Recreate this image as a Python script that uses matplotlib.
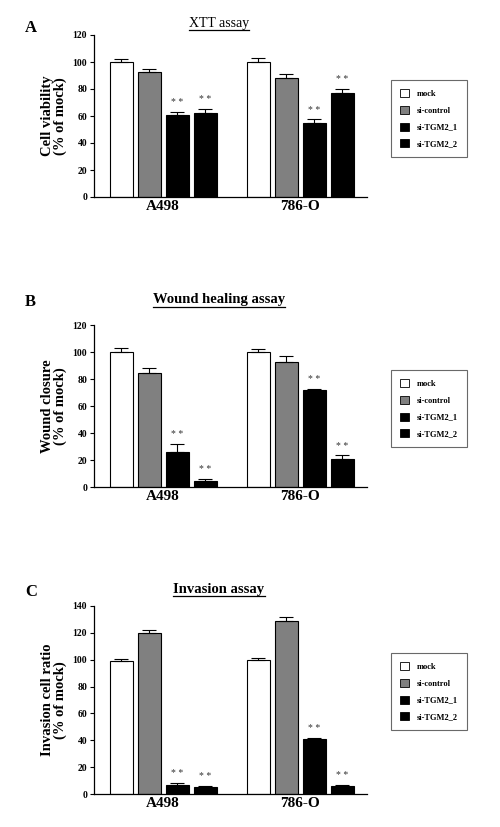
import numpy as np
import matplotlib.pyplot as plt
from matplotlib.lines import Line2D
from matplotlib.patches import Patch

plt.rcParams['font.family'] = ['Liberation Serif', 'DejaVu Serif']
plt.rcParams['font.weight'] = 'bold'

cell_lines = ['A498', '786-O']
series = ['mock', 'si-control', 'si-TGM2_1', 'si-TGM2_2']
colors = ['white', '#808080', 'black', 'black']

# rows = series, cols = cell lines
xtt_means = [[100, 100.3], [92.5, 88.3], [61, 55], [62, 77]]
xtt_errs = [[2.5, 2.3], [2.5, 2.5], [2, 2.5], [3, 3.2]]
wound_means = [[100, 100], [84.2, 92.4], [26.4, 71.9], [4.7, 21.2]]
wound_errs = [[3.2, 2.2], [4.2, 4.6], [5.4, 1.0], [1.7, 2.4]]
inv_means = [[99.2, 99.5], [120, 128.6], [7, 41], [5.2, 5.9]]
inv_errs = [[1.5, 1.9], [2.3, 3.2], [1.2, 0.8], [1, 0.8]]
starred = [False, False, True, True]

W, H = 500, 827
fig = plt.figure(figsize=(5, 8.27), dpi=100)


def px(x, y):
    return x / W, 1 - y / H


def panel(means, errs, ytop, y0px, y1px, ylabel, letter, title, title_y, letter_y,
          title_bold, legend_top):
    left, bottom = px(94, y0px)
    ax = fig.add_axes([left, bottom, 273 / W, (y0px - y1px) / H])
    step, width = 0.2044, 0.168
    offsets = (np.arange(4) - 1.5) * step
    groups = np.arange(len(cell_lines))
    for i in range(4):
        m = np.array(means[i])
        e = np.array(errs[i])
        ax.bar(groups + offsets[i], m, width, color=colors[i], edgecolor='black',
               linewidth=0.8, zorder=2)
        ax.errorbar(groups + offsets[i], m, yerr=[np.zeros_like(e), e], fmt='none',
                    ecolor='black', elinewidth=0.8, capsize=5, capthick=0.8, zorder=3)
        if starred[i]:
            for g in groups:
                ax.annotate('* *', (g + offsets[i], m[g] + e[g]), xytext=(0, 3.5),
                            textcoords='offset points', ha='center', va='bottom',
                            fontsize=7, fontweight='normal', color='#333333')
    ax.set_xlim(-0.504, 1.489)
    ax.set_ylim(0, ytop)
    ax.set_yticks(np.arange(0, ytop + 1, 20))
    ax.set_xticks(groups)
    ax.set_xticklabels(cell_lines, fontsize=11, fontweight='bold')
    ax.tick_params(axis='x', length=0, pad=2)
    ax.tick_params(axis='y', labelsize=7, length=3, width=0.8, pad=2)
    for s in ['top', 'right']:
        ax.spines[s].set_visible(False)
    for s in ['left', 'bottom']:
        ax.spines[s].set_linewidth(0.9)
    ax.set_ylabel(ylabel, fontsize=10.5, fontweight='bold', linespacing=0.95, labelpad=4)

    fig.text(25 / W, 1 - letter_y / H, letter, fontsize=12, fontweight='bold',
             ha='left', va='center')
    t = fig.text(219 / W, 1 - title_y / H, title, fontsize=10 if not title_bold else 10.5,
                 fontweight='bold' if title_bold else 'normal', ha='center', va='center')
    fig.canvas.draw()
    bb = t.get_window_extent()
    x0, yb = fig.transFigure.inverted().transform((bb.x0, bb.y0))
    x1, _ = fig.transFigure.inverted().transform((bb.x1, bb.y0))
    fig.add_artist(Line2D([x0, x1], [yb, yb], transform=fig.transFigure,
                          color='black', lw=0.9))

    handles = [Patch(facecolor=c, edgecolor='black', linewidth=0.6) for c in colors]
    leg = fig.legend(handles, series, loc='upper left', bbox_to_anchor=px(391, legend_top),
                     fontsize=6, frameon=True, fancybox=False, borderpad=1.1,
                     handlelength=1.1, handleheight=1.1, handletextpad=0.9,
                     labelspacing=0.95, borderaxespad=0)
    leg.get_frame().set_edgecolor('#444444')
    leg.get_frame().set_linewidth(0.8)
    return ax


panel(xtt_means, xtt_errs, 120, 197, 35, 'Cell viability\n(% of mock)', 'A',
      'XTT assay', 23, 28, False, 80)
panel(wound_means, wound_errs, 120, 487.3, 325, 'Wound closure\n(% of mock)', 'B',
      'Wound healing assay', 300, 302, True, 370)
panel(inv_means, inv_errs, 140, 794.3, 605.7, 'Invasion cell ratio\n(% of mock)', 'C',
      'Invasion assay', 589, 592, True, 653)

fig.savefig('out.png', dpi=100)
